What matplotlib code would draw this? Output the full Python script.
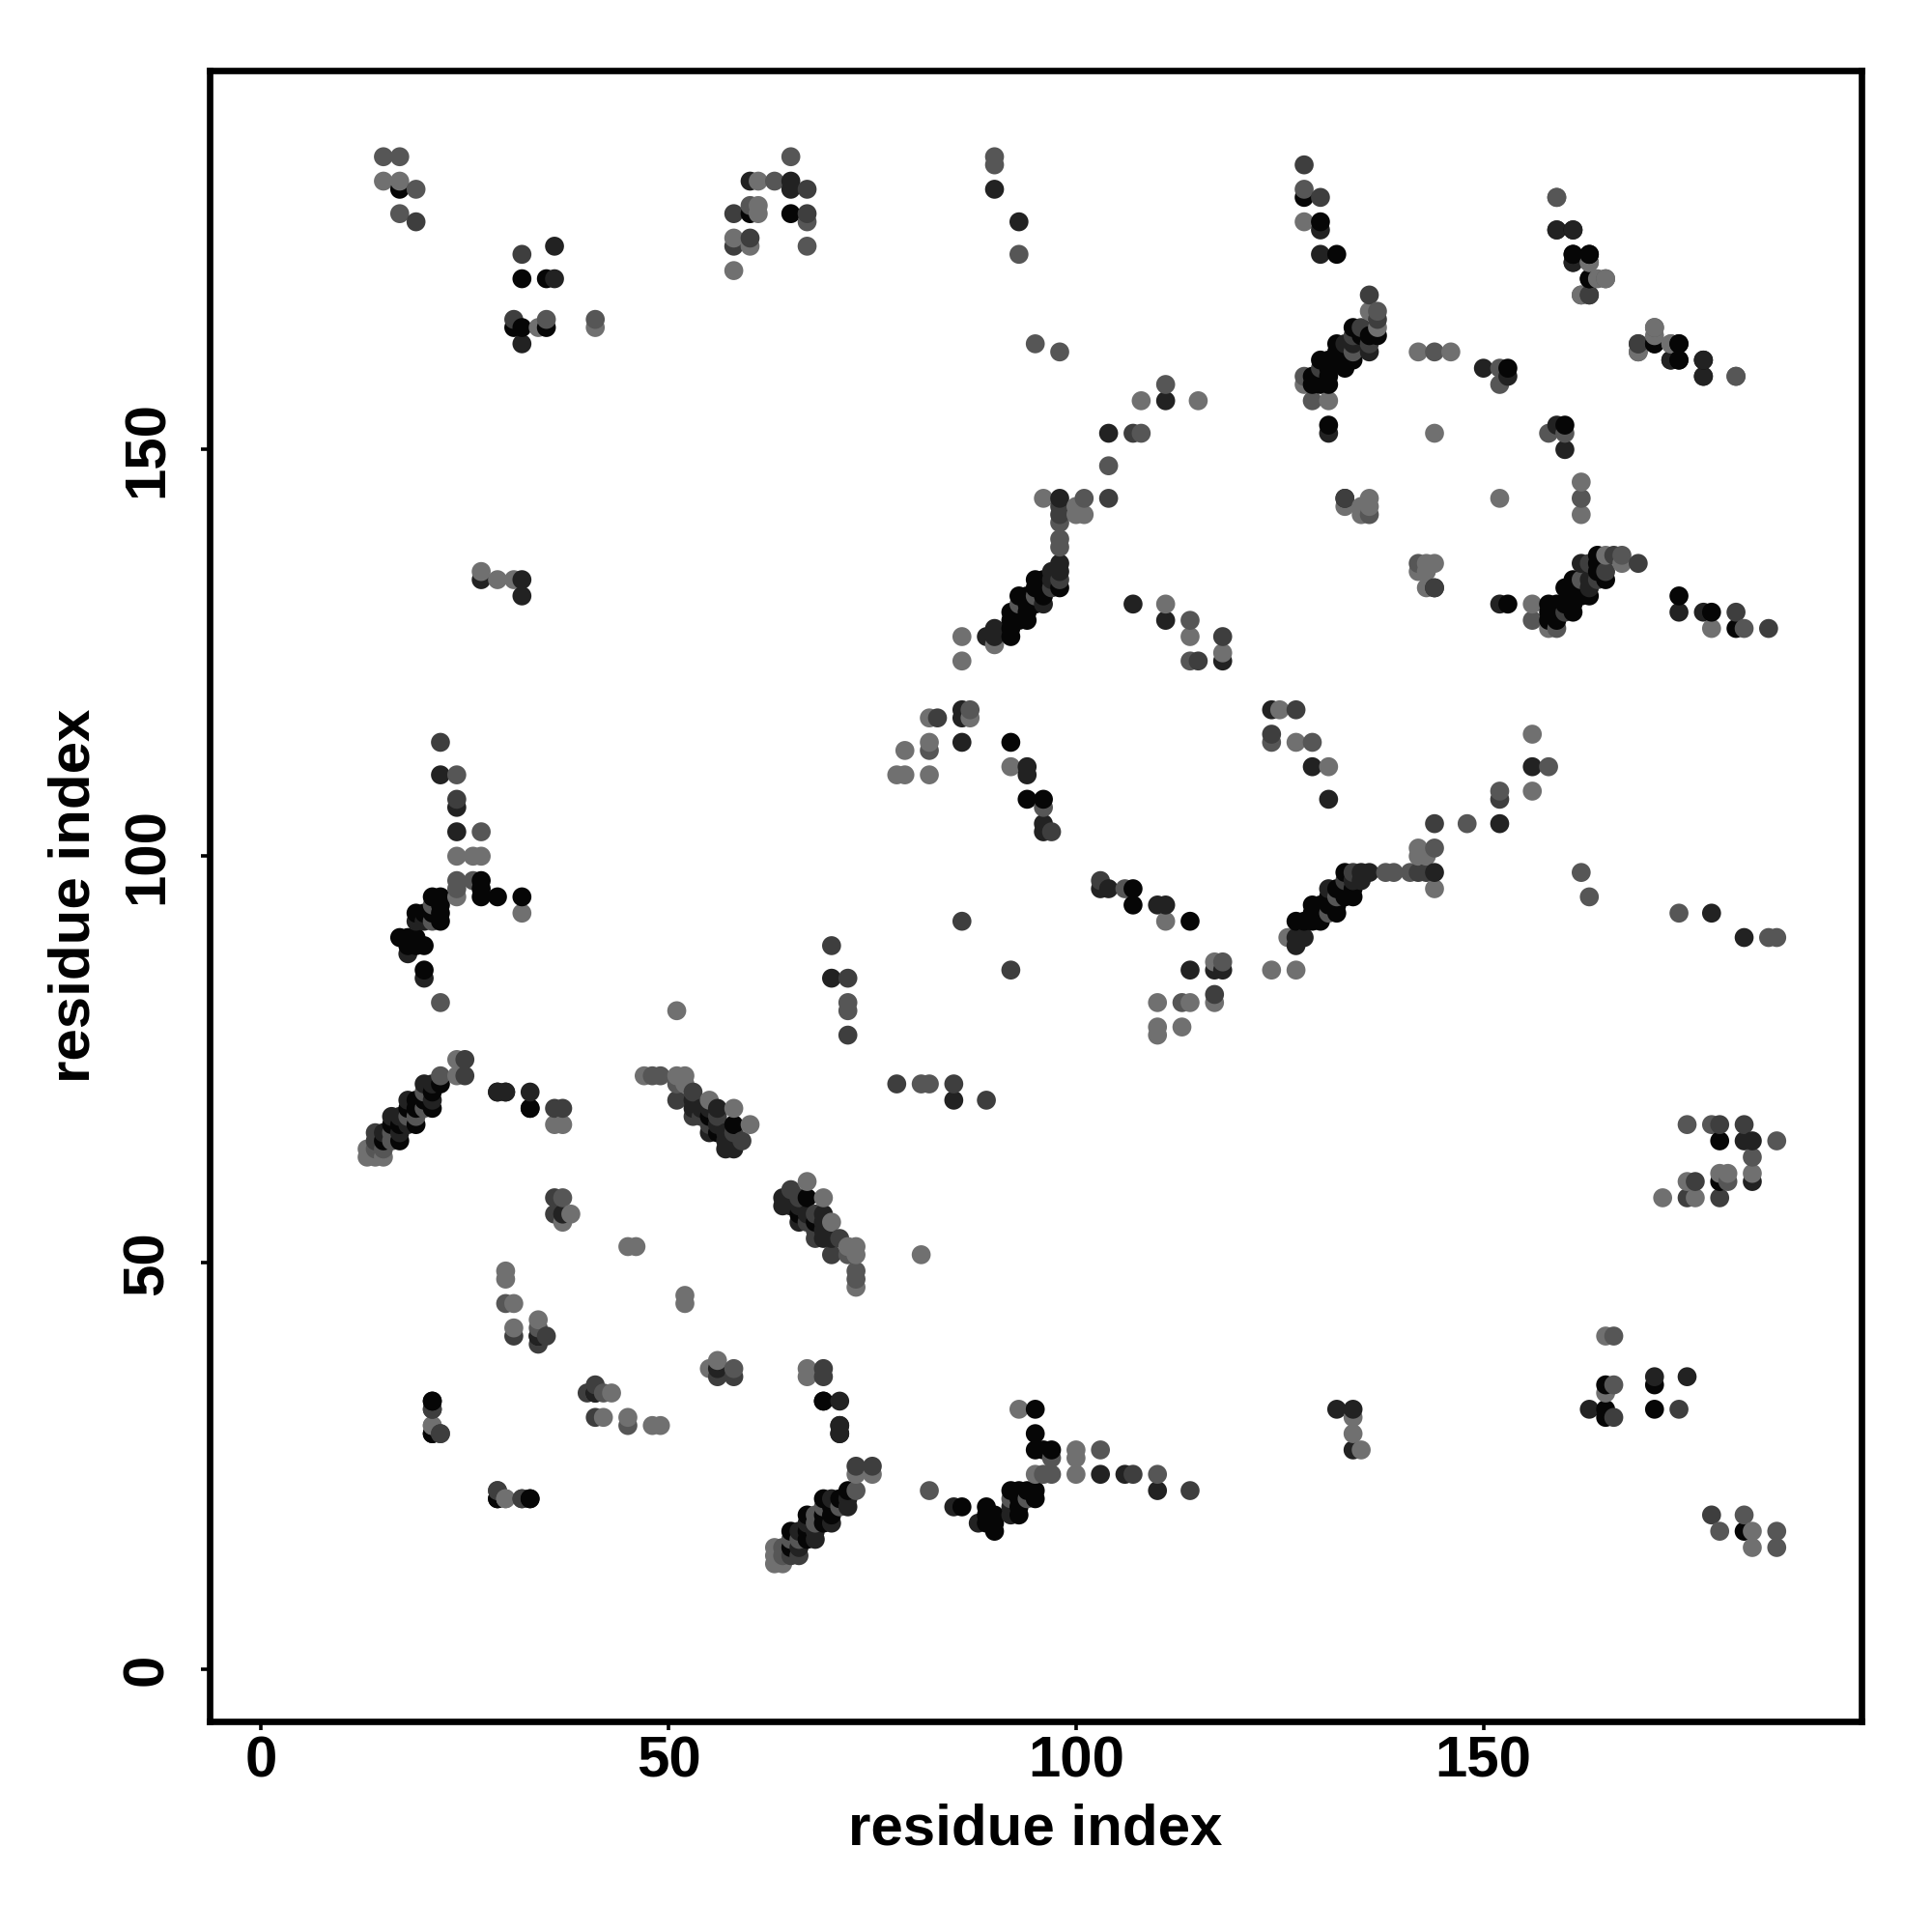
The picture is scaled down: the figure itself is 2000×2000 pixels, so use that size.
import numpy as np
import matplotlib
matplotlib.use('Agg')
import matplotlib.pyplot as plt

plt.rcParams['font.family'] = ['Liberation Sans', 'DejaVu Sans']

# contacts above the diagonal (residue i, residue j), grouped by grey level
black_pairs = [
    (17,182),(32,171),(35,171),(31,165),(32,165),(35,165),(60,179),(65,179),(128,181),(130,178),
    (132,174),(131,153),(137,164),(134,165),(136,164),(135,164),(132,163),(132,162),(133,162),(132,161),
    (133,160),(130,161),(131,161),(131,160),(129,159),(130,159),(131,159),(130,158),(131,158),(129,158),
    (98,133),(95,134),(96,134),(95,133),(96,133),(96,132),(93,132),(94,132),(94,131),(95,131),
    (93,130),(94,130),(94,129),(92,130),(92,129),(93,129),(92,128),(92,127),(133,161),(134,161),
    (161,174),(163,174),(163,171),(171,163),(174,163),(174,161),(177,161),(153,160),
    (27,97),(27,96),(27,95),(29,95),(32,95),(21,95),(22,95),(22,94),(22,93),(22,92),(21,93),
    (19,93),(20,93),(17,90),(18,90),(19,90),(18,89),(19,89),(20,89),(20,86),
    (22,72),(21,71),(21,69),(20,70),(19,70),(18,69),(19,69),(19,67),(16,67),(17,67),(17,65),(15,65),
    (33,69),(55,68),(56,66),(58,67),(92,114),(94,107),(96,107),
    (69,33),(71,29),(21,33),(21,29),(29,21),(33,21),(41,34),
]
dark_pairs = [
    (36,175),(36,171),(32,163),(32,134),(32,132),(27,134),(60,183),(65,183),(65,182),(90,182),
    (93,178),(130,174),(130,177),(136,162),(133,163),(134,163),(131,152),(98,136),
    (98,135),(97,135),(97,134),(96,131),(90,128),(89,127),(90,127),(107,131),(111,129),(111,156),
    (104,152),(98,144),(133,144),(159,177),(161,177),(161,173),(173,161),(177,159),(150,160),(153,159),
    (22,110),(24,106),(24,103),(19,92),(20,92),(18,88),(20,85),(70,85),(118,124),
    (20,72),(21,72),(21,70),(18,70),(18,67),(16,68),(17,68),(17,66),(15,66),
    (29,71),(30,71),(33,71),(53,70),(53,69),(55,69),(56,69),(54,69),(55,66),(56,67),(57,66),(57,65),
    (57,64),(58,64),(58,65),(86,118),(86,117),(86,114),(94,111),(94,110),(96,104),(96,103),
    (37,56),(34,41),(71,30),
]
mid_pairs = [
    (19,178),(32,174),(31,166),(60,176),(58,175),(58,179),(67,182),(67,179),(128,185),(130,181),
    (136,169),(137,166),(135,165),(136,163),(134,164),(130,160),(107,152),(104,144),(98,143),(98,142),
    (98,134),(97,133),(118,127),(115,124),(163,169),(169,163),(133,144),
    (22,114),(24,107),(25,75),(25,73),(86,92),(70,89),(72,85),(72,78),(14,66),(14,65),
    (36,69),(37,69),(51,70),(53,71),(53,68),(54,68),(55,67),(56,68),(58,66),(59,65),(83,117),(97,103),
    (36,58),(36,56),(31,41),(35,41),(34,40),(21,32),(22,29),(29,22),(32,21),
]
grey_pairs = [
    (15,186),(17,186),(19,182),(17,179),(35,166),(41,166),(65,186),(63,183),(67,178),(67,175),
    (90,186),(90,185),(93,174),(128,182),(137,167),(128,159),(129,156),(134,162),(95,163),(98,162),
    (111,158),(108,152),(104,148),(101,144),(98,141),(98,139),(98,138),(95,132),(93,131),(136,142),
    (114,129),(114,124),(159,181),(171,165),(144,162),(152,160),(152,158),(181,159),(169,162),
    (24,110),(27,103),(24,97),(24,96),(26,97),(21,94),(21,92),(22,82),(72,82),(72,81),
    (22,73),(20,71),(20,69),(19,68),(18,68),(16,66),(16,65),(15,64),(14,64),(60,180),
    (48,73),(49,73),(51,72),(82,113),(96,106),(87,118),(37,58),(30,45),(34,42),
]
light_pairs = [
    (15,183),(17,183),(34,165),(41,165),(61,183),(61,180),(61,179),(58,176),(60,175),(58,172),
    (27,135),(29,134),(31,134),(128,178),(136,167),(137,165),(128,158),(131,156),(108,156),(115,156),
    (96,144),(100,143),(100,142),(101,142),(133,143),(135,143),(135,142),(136,144),(136,143),
    (86,127),(86,124),(90,126),(111,131),(114,127),(118,125),(163,173),(164,171),(165,171),(162,169),
    (173,163),(142,162),(146,162),(144,152),
    (24,100),(26,100),(27,100),(24,95),(32,93),(51,81),(24,75),(24,73),(13,64),(13,63),(14,63),(15,63),
    (36,67),(37,67),(47,73),(51,73),(52,73),(52,72),(55,70),(58,69),(60,67),
    (82,117),(87,117),(82,114),(79,113),(78,110),(79,110),(82,110),(92,111),(38,56),(37,55),
    (45,52),(46,52),(30,49),(30,48),(31,45),(31,42),(34,43),(21,30),(30,21),
]
grey_levels = ['#060606', '#222222', '#3e3e3e', '#565656', '#707070']
pair_groups = [black_pairs, dark_pairs, mid_pairs, grey_pairs, light_pairs]

i_vals = []
j_vals = []
shade = []
for group, level in zip(pair_groups, grey_levels):
    for a, b in group:
        # the map is symmetric, every contact shows up on both sides
        i_vals += [a, b]
        j_vals += [b, a]
        shade += [level, level]
i_vals = np.array(i_vals)
j_vals = np.array(j_vals)
shade = np.array(shade)

# points are painted column by column, bottom to top
order = np.lexsort((j_vals, i_vals))

fig = plt.figure(figsize=(10, 10), dpi=200)
ax = fig.add_axes([217/2000, 1 - 1782/2000, 1710/2000, 1709/2000])
ax.scatter(i_vals[order], j_vals[order], s=50, c=shade[order], linewidths=0, zorder=2)

ax.set_xlim(-6.33, 196.4)
ax.set_ylim(-6.38, 196.6)
ax.set_xticks([0, 50, 100, 150])
ax.set_yticks([0, 50, 100, 150])
ax.tick_params(length=3.2, width=1.3, labelsize=21.6)
ax.tick_params(axis='x', pad=2)
ax.tick_params(axis='y', pad=10)
for lab in ax.get_xticklabels():
    lab.set_fontweight('bold')
for lab in ax.get_yticklabels():
    lab.set_fontweight('bold')
    lab.set_rotation(90)
    lab.set_va('center')
for spine in ax.spines.values():
    spine.set_linewidth(2.4)
ax.set_xlabel('residue index', fontsize=21.6, fontweight='bold', labelpad=5.5)
ax.set_ylabel('residue index', fontsize=21.6, fontweight='bold', labelpad=7.4)

plt.savefig('out.png', dpi=200)
